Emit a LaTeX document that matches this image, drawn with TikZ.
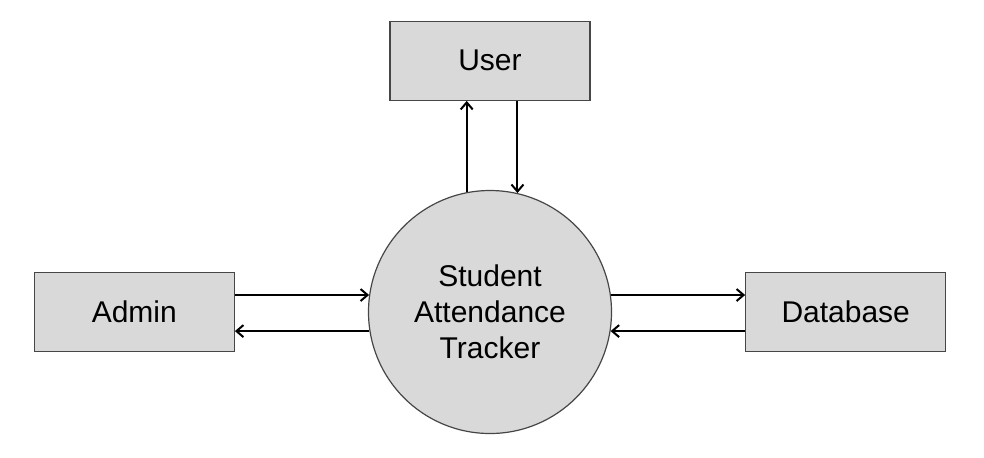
\documentclass[tikz,border=0pt]{standalone}
\usepackage{fontspec}
\setmainfont{Liberation Sans}
\usetikzlibrary{arrows.meta, positioning, calc}

\definecolor{boxgray}{RGB}{217,217,217}
\definecolor{edgegray}{RGB}{70,70,70}

\begin{document}
\begin{tikzpicture}[
  node distance=43.5pt and 66.5pt,
  box/.style={rectangle, draw=edgegray, line width=0.6pt, fill=boxgray, minimum width=100pt, minimum height=39.5pt, font=\fontsize{15}{18}\selectfont},
  process/.style={circle, draw=edgegray, line width=0.6pt, fill=boxgray, minimum size=121.5pt, align=center, font=\fontsize{15}{18}\selectfont},
  arrow/.style={-{Straight Barb[length=3.5pt,width=6pt]}, line width=1pt}
]
\useasboundingbox (0,0) rectangle (492pt,-228.5pt);

% Nodes
\node (tracker) [process] at (245pt,-156pt) {Student\\Attendance\\Tracker};
\node (user) [box, above=of tracker, yshift=1pt] {User};
\node (admin) [box, left=of tracker] {Admin};
\node (database) [box, right=of tracker] {Database};

% Arrows
\draw [arrow] (tracker.101.4) -- (tracker.101.4 |- user.south);
\draw [arrow] (tracker.77.6 |- user.south) -- (tracker.77.6);
\draw [arrow] (admin.east |- tracker.172) -- (tracker.172);
\draw [arrow] (tracker.189.5) -- (tracker.189.5 -| admin.east);
\draw [arrow] (tracker.8) -- (tracker.8 -| database.west);
\draw [arrow] (database.west |- tracker.-9.5) -- (tracker.-9.5);

\end{tikzpicture}
\end{document}
